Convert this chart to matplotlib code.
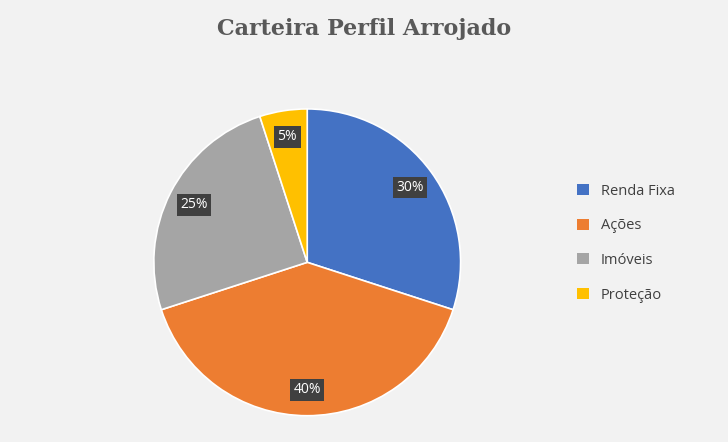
import matplotlib
matplotlib.use("Agg")
import matplotlib.pyplot as plt
from matplotlib.patches import Patch

categories = ["Renda Fixa", "Ações", "Imóveis", "Proteção"]
values = [30, 40, 25, 5]
colors = ["#4472c4", "#ed7d31", "#a5a5a5", "#ffc000"]
bg = "#f2f2f2"

fig = plt.figure(figsize=(7.28, 4.42), dpi=100, facecolor=bg)
ax = fig.add_axes([0.209, 0.056, 0.426, 0.701])
ax.set_facecolor(bg)
wedges, texts, autotexts = ax.pie(values, colors=colors, startangle=90, counterclock=False,
    autopct=lambda p: f"{p:.0f}%", pctdistance=0.83,
    wedgeprops=dict(edgecolor="white", linewidth=1.2),
    textprops=dict(color="white", fontsize=10, family="Open Sans"))
for t in autotexts:
    t.set_bbox(dict(facecolor="#404040", edgecolor="none", pad=2.5))
ax.set_aspect("equal")
ax.set_xlim(-1.01, 1.01)
ax.set_ylim(-1.01, 1.01)

fig.text(0.5, 0.935, "Carteira Perfil Arrojado", ha="center", va="center",
         fontsize=16, fontweight="bold", color="#595959", family="DejaVu Serif")

handles = [Patch(facecolor=c, edgecolor="none") for c in colors]
fig.legend(handles, categories, loc="center left", bbox_to_anchor=(0.775, 0.45),
           frameon=False, handlelength=0.8, handleheight=0.8, labelspacing=1.35,
           prop=dict(family="Open Sans", size=10.5), labelcolor="#404040")

fig.savefig("out.png", dpi=100, facecolor=bg)
